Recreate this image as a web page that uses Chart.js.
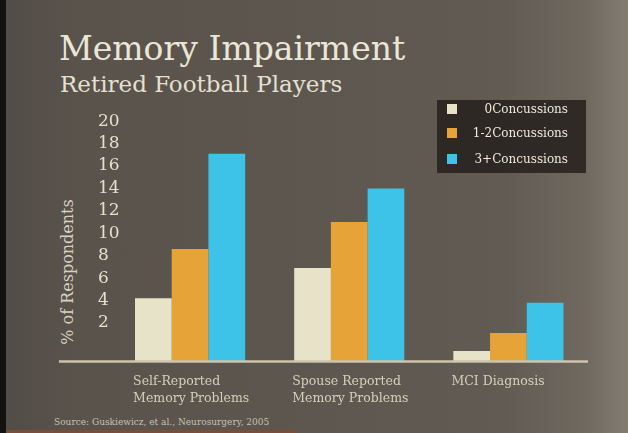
<!DOCTYPE html>
<html lang="en">
<head>
<meta charset="utf-8">
<title>Memory Impairment</title>
<script src="https://cdn.jsdelivr.net/npm/chart.js@4.4.1/dist/chart.umd.min.js"></script>
<style>
  html, body { margin: 0; padding: 0; }
  body { width: 628px; height: 433px; overflow: hidden; }
  #lamina {
    position: relative;
    width: 628px;
    height: 433px;
    background: linear-gradient(90deg, #514c46 0%, #59534c 12%, #5c564f 45%, #615b53 80%, #6f685f 93%, #857d72 100%);
    font-family: "DejaVu Serif", serif;
    overflow: hidden;
  }
  #borde-izq { position: absolute; left: 0; top: 0; width: 6px; height: 433px; background: #141210; }
  #borde-inf { position: absolute; left: 6px; top: 430px; width: 290px; height: 3px; background: #7a4e36; }
  #titulo {
    position: absolute; left: 59px; top: 32px; margin: 0;
    font-size: 33px; line-height: 1; font-weight: normal; color: #ebe6d8; white-space: nowrap;
  }
  #subtitulo {
    position: absolute; left: 60px; top: 73px; margin: 0;
    font-size: 23px; line-height: 1; font-weight: normal; color: #e6e0d0; white-space: nowrap;
  }
  #eje-y {
    position: absolute; left: 67px; top: 272px;
    transform: translate(-50%, -50%) rotate(-90deg);
    font-size: 16px; color: #d9d2c0; white-space: nowrap;
  }
  #leyenda {
    position: absolute; left: 437px; top: 100px; width: 149px; height: 73px;
    background: rgba(36, 32, 28, 0.85);
  }
  .fila { position: absolute; left: 0; width: 131px; height: 16px; }
  .fila .cuadro { position: absolute; left: 10px; top: 3px; width: 10px; height: 10px; }
  .fila .texto {
    position: absolute; right: 0; top: 0; font-size: 12px; line-height: 16px;
    color: #efe9dc; white-space: nowrap;
  }
  #fuente {
    position: absolute; left: 54px; top: 417px; font-size: 9px; line-height: 11px;
    color: #c8c0ad; white-space: nowrap;
  }
  #contenedor-grafico { position: absolute; left: 0; top: 0; width: 628px; height: 433px; }
</style>
</head>
<body>
<div id="lamina">
  <div id="borde-izq"></div>
  <div id="borde-inf"></div>
  <h1 id="titulo">Memory Impairment</h1>
  <h2 id="subtitulo">Retired Football Players</h2>
  <div id="eje-y">% of Respondents</div>
  <div id="fuente">Source: Guskiewicz, et al., Neurosurgery, 2005</div>
  <div id="contenedor-grafico"><canvas id="grafico"></canvas></div>
  <div id="leyenda"></div>
</div>
<script>
const categorias = [
  ["Self-Reported", "Memory Problems"],
  ["Spouse Reported", "Memory Problems"],
  ["MCI Diagnosis"],
];
const etiquetasSerie = ["0Concussions", "1-2Concussions", "3+Concussions"];
const ceroConmociones = [5.6, 8.3, 0.9];
const unaDosConmociones = [10.0, 12.4, 2.5];
const tresOMasConmociones = [18.5, 15.4, 5.2];
const etiquetasY = [2, 4, 6, 8, 10, 12, 14, 16, 18, 20];

const colores = ["#e7e3c8", "#e6a338", "#3ec3e8"];
const fuenteSerif = "'DejaVu Serif', serif";

// linea de base: arranca bajo el eje Y, mas a la izquierda que el area del grafico
const lineaBase = {
  id: "lineaBase",
  afterDatasetsDraw(chart) {
    const { ctx, chartArea } = chart;
    ctx.save();
    ctx.strokeStyle = "#cdc4ae";
    ctx.lineWidth = 2.5;
    ctx.beginPath();
    ctx.moveTo(59, chartArea.bottom + 0.5);
    ctx.lineTo(chartArea.right, chartArea.bottom + 0.5);
    ctx.stroke();
    ctx.restore();
  },
};

const grafico = new Chart(document.getElementById("grafico"), {
  type: "bar",
  data: {
    labels: categorias,
    datasets: [
      { label: etiquetasSerie[0], data: ceroConmociones, backgroundColor: colores[0] },
      { label: etiquetasSerie[1], data: unaDosConmociones, backgroundColor: colores[1] },
      { label: etiquetasSerie[2], data: tresOMasConmociones, backgroundColor: colores[2] },
    ],
  },
  options: {
    responsive: true,
    maintainAspectRatio: false,
    animation: false,
    layout: { padding: { left: 98.5, right: 40, top: 120, bottom: 0 } },
    datasets: { bar: { categoryPercentage: 0.692, barPercentage: 1, borderWidth: 0 } },
    plugins: { legend: { display: false }, tooltip: { enabled: false } },
    scales: {
      x: {
        grid: { display: false, drawTicks: false },
        border: { display: false },
        ticks: {
          align: "start",
          labelOffset: -57,
          padding: 13,
          maxRotation: 0,
          autoSkip: false,
          color: "#d6ceba",
          font: { family: fuenteSerif, size: 12.5, lineHeight: 1.3 },
        },
        afterFit: (escala) => { escala.height = 72; },
      },
      y: {
        min: 0,
        max: 21.5,
        grid: { display: false, drawTicks: false },
        border: { display: false },
        ticks: {
          stepSize: 2,
          includeBounds: false,
          autoSkip: false,
          mirror: true, // asi no se recortan las etiquetas que pisan el area
          padding: -12.5,
          labelOffset: -15.6,
          color: "#e6dfcc",
          font: { family: fuenteSerif, size: 17 },
          callback: (valor) => (etiquetasY.includes(valor) ? String(valor) : ""),
        },
        afterFit: (escala) => { escala.width = 12; },
      },
    },
  },
  plugins: [lineaBase],
});

// leyenda armada a mano, con caja oscura como en la lamina
const $leyenda = document.getElementById("leyenda");
const filasY = [1, 25, 51];
grafico.data.datasets.forEach((ds, i) => {
  const fila = document.createElement("div");
  fila.className = "fila";
  fila.style.top = filasY[i] + "px";
  fila.innerHTML = `<span class="cuadro" style="background:${ds.backgroundColor}"></span><span class="texto">${ds.label}</span>`;
  $leyenda.appendChild(fila);
});
</script>
</body>
</html>
